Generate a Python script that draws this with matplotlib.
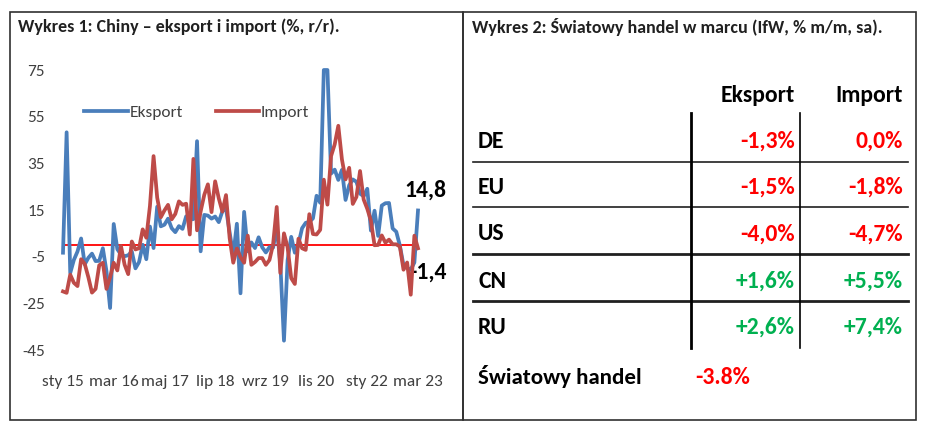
import matplotlib
matplotlib.use("Agg")
import matplotlib.pyplot as plt
from matplotlib import font_manager as fm
import numpy as np

# pick a Calibri-like family that really has a bold face
_bold = {f.name for f in fm.fontManager.ttflist if str(f.weight) in ("bold", "700", "600")
         or (isinstance(f.weight, int) and f.weight >= 600)}
FONT = next((c for c in ["Carlito", "Lato", "Roboto", "Liberation Sans"] if c in _bold), "DejaVu Sans")
plt.rcParams["font.family"] = [FONT, "DejaVu Sans"]

# --- Wykres 1: Chiny, eksport i import (%, r/r), sty 2015 - mar 2023 ---
eksport = [
    -3.3, 48.3, -12.0, -6.4, -2.8, 2.8, -8.3, -5.5, -3.7, -6.9, -6.8, -1.4,
    -11.2, -27.0, 9.0, -1.8, -4.1, -4.8, -4.4, -2.8, -10.0, -7.3, 0.1, -6.1,
    7.9, -1.3, 16.4, 8.0, 8.7, 11.3, 7.2, 5.5, 8.1, 6.9, 12.3, 10.9,
    11.1, 44.5, -2.7, 12.9, 12.6, 11.3, 12.2, 9.8, 14.5, 15.6, 5.4, -4.4,
    9.1, -20.7, 14.2, -2.7, 1.1, -1.3, 3.3, -1.0, -3.2, -0.9, -1.1, 7.6,
    -8.0, -41.0, -6.6, 3.5, -3.3, 0.5, 7.2, 9.5, 9.9, 11.4, 21.1, 18.1,
    75.0, 75.0, 30.6, 32.3, 27.9, 32.2, 19.3, 25.6, 28.1, 27.1, 22.0, 20.9,
    24.1, 6.2, 14.7, 3.9, 16.9, 17.9, 18.0, 7.1, 5.7, -0.3, -8.7, -9.9,
    -10.5, -7.5, 14.8,
]
import_ = [
    -19.9, -20.5, -12.7, -16.2, -17.6, -6.1, -8.1, -13.8, -20.4, -18.8, -8.7, -7.6,
    -18.8, -13.8, -7.6, -10.9, -0.4, -8.4, -12.5, 1.5, -1.9, -1.4, 6.7, 3.1,
    16.7, 38.1, 20.3, 11.9, 14.8, 17.2, 11.0, 13.3, 18.7, 17.2, 17.7, 4.5,
    36.9, 6.3, 14.4, 21.5, 26.0, 14.1, 27.3, 20.0, 14.3, 21.4, 3.0, -7.6,
    -1.5, -5.2, -7.6, 4.0, -8.5, -7.3, -5.6, -5.6, -8.5, -6.4, 0.3, 16.3,
    -12.0, 5.0, -1.0, -14.2, -16.7, 2.7, -1.4, -2.1, 13.2, 4.7, 4.5, 6.5,
    28.0, 17.3, 38.1, 43.1, 51.1, 36.7, 28.1, 33.1, 17.6, 20.6, 31.7, 19.5,
    15.5, 10.4, -0.1, 0.0, 4.1, 1.0, 2.3, 0.3, 0.3, -0.7, -10.6, -7.5,
    -21.3, 4.0, -1.4,
]
xtick_labels = ["sty 15", "mar 16", "maj 17", "lip 18", "wrz 19", "lis 20", "sty 22", "mar 23"]
yticks = [75, 55, 35, 15, -5, -25, -45]

# --- Wykres 2: Światowy handel w marcu (IfW, % m/m, sa) ---
kraje = ["DE", "EU", "US", "CN", "RU"]
eksport_mm = ["-1,3%", "-1,5%", "-4,0%", "+1,6%", "+2,6%"]
import_mm = ["0,0%", "-1,8%", "-4,7%", "+5,5%", "+7,4%"]
swiat = "-3.8%"

BLUE = "#4a7ebb"
RED = "#be4b48"
VRED = "#ff0000"
GREEN = "#00b050"

W, H = 930, 432
fig = plt.figure(figsize=(W / 100, H / 100), dpi=100)

# overlay in pixel coords for frames and table
ov = fig.add_axes([0, 0, 1, 1])
ov.set_xlim(0, W)
ov.set_ylim(H, 0)
ov.axis("off")

# left chart axes: month 0 at x=63px, month 98 at x=418px; 75 at y=70, -45 at y=350
x0, x1, ytop, ybot = 63, 418, 70, 350
ax = fig.add_axes([x0 / W, 1 - ybot / H, (x1 - x0) / W, (ybot - ytop) / H])
months = np.arange(len(eksport))
ax.plot(months, eksport, color=BLUE, lw=2.7, label="Eksport", clip_on=False, zorder=3)
ax.plot(months, import_, color=RED, lw=2.7, label="Import", clip_on=False, zorder=4)
ax.plot([0, months[-1]], [0, 0], color=VRED, lw=1.3, zorder=2)
ax.set_xlim(0, months[-1])
ax.set_ylim(-45, 75)
ax.set_yticks(yticks)
ax.set_yticklabels([str(v) for v in yticks], fontsize=12.5, color="#404040")
ax.set_xticks(np.arange(0, len(eksport), 14))
ax.set_xticklabels(xtick_labels, fontsize=12.5, color="#404040")
ax.tick_params(length=0, axis="y", pad=13)
ax.tick_params(length=0, axis="x", pad=18)
for s in ax.spines.values():
    s.set_visible(False)
ax.patch.set_visible(False)
ax.legend(loc="upper left", bbox_to_anchor=(0.016, 0.932), ncol=2, frameon=False,
          fontsize=12.5, handlelength=2.5, handletextpad=0.1, columnspacing=1.9,
          labelcolor="#404040")
ax.annotate("14,8", (months[-1], eksport[-1]), xytext=(-10, 7), textcoords="offset points",
            fontsize=17, fontweight="bold", ha="left", va="bottom", annotation_clip=False)
ax.annotate("-1,4", (months[-1], import_[-1]), xytext=(-6, -10), textcoords="offset points",
            fontsize=17, fontweight="bold", ha="left", va="top", annotation_clip=False)

# frames
ov.add_patch(plt.Rectangle((10, 12), 453, 408, fill=False, ec="#303030", lw=1.2))
ov.add_patch(plt.Rectangle((463, 12), 453, 408, fill=False, ec="#303030", lw=1.2))
ov.text(18, 27, "Wykres 1: Chiny – eksport i import (%, r/r).", fontsize=13,
        fontweight="bold", va="center", color="#202020")
ov.text(472, 27, "Wykres 2: Światowy handel w marcu (IfW, % m/m, sa).", fontsize=13,
        fontweight="bold", va="center", color="#202020")

# table
row_y = [141, 187, 234, 281, 327]
ov.text(795, 96, "Eksport", fontsize=17, fontweight="bold", ha="right", va="center")
ov.text(903, 96, "Import", fontsize=17, fontweight="bold", ha="right", va="center")
for i, k in enumerate(kraje):
    ov.text(478, row_y[i], k, fontsize=17, fontweight="bold", ha="left", va="center")
    c1 = GREEN if eksport_mm[i].startswith("+") else VRED
    c2 = GREEN if import_mm[i].startswith("+") else VRED
    ov.text(795, row_y[i], eksport_mm[i], fontsize=17, fontweight="bold", ha="right",
            va="center", color=c1)
    ov.text(903, row_y[i], import_mm[i], fontsize=17, fontweight="bold", ha="right",
            va="center", color=c2)
ov.text(478, 376, "Światowy handel", fontsize=16.5, fontweight="bold", ha="left", va="center")
ov.text(695, 377, swiat, fontsize=17, fontweight="bold", ha="left", va="center", color=VRED)

for y, lw in [(162, 1.2), (207, 1.2), (254, 2.0), (301, 2.0)]:
    ov.plot([473, 908], [y, y], color="#202020", lw=lw)
ov.plot([691, 691], [113, 348], color="black", lw=2.0)
ov.plot([800, 800], [113, 348], color="black", lw=1.2)

fig.savefig("out.png", dpi=100)
